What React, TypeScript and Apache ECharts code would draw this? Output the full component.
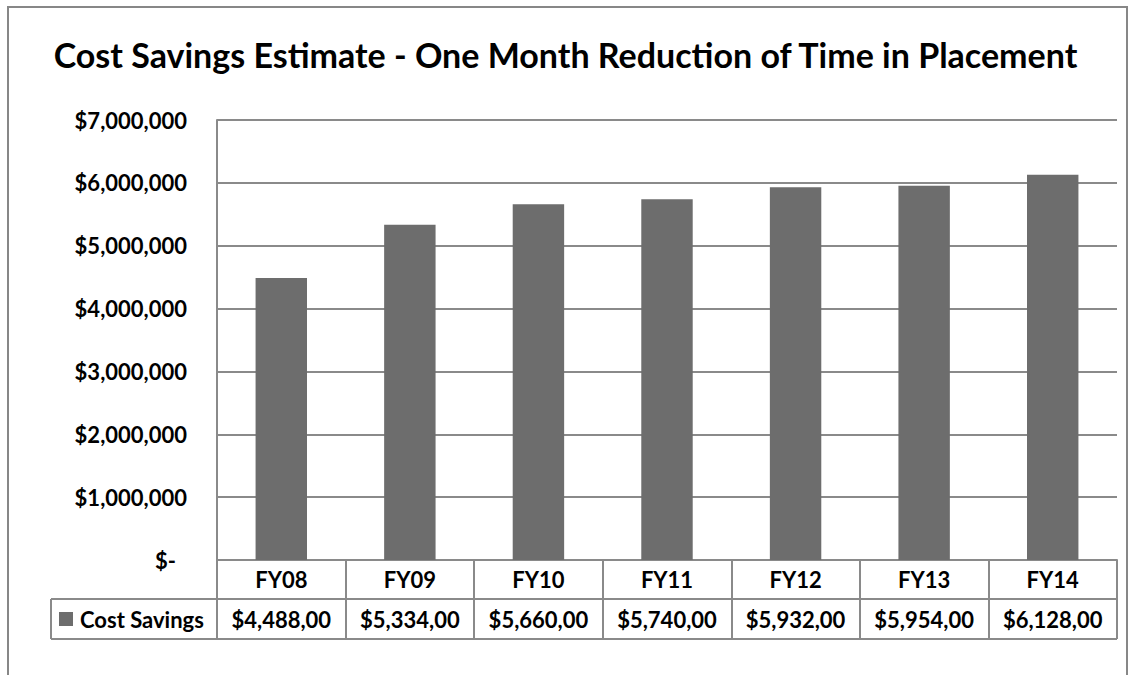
import React, { useEffect, useRef } from "react";
import * as echarts from "echarts";

const TITLE = "Cost Savings Estimate - One Month Reduction of Time in Placement";
const SERIES_NAME = "Cost Savings";
const categories = ["FY08", "FY09", "FY10", "FY11", "FY12", "FY13", "FY14"];
const values = [4488000, 5334000, 5660000, 5740000, 5932000, 5954000, 6128000];
const yMin = 0;
const yMax = 7000000;
const yStep = 1000000;

const FONT = "Lato, 'DejaVu Sans', sans-serif";
const GRAY_LINE = "#8a8a8a";
const BAR = "#6d6d6d";
const FS = 22;

const fmtAxis = (v: number) =>
  v === 0 ? "{z|$-}" : "$" + v.toLocaleString("en-US");
const fmtTable = (v: number) =>
  "$" + (v / 1000).toLocaleString("en-US") + ",00";

export default function App() {
  const ref = useRef<HTMLDivElement>(null);
  useEffect(() => {
    if (!ref.current) return;
    const chart = echarts.init(ref.current, null, { renderer: "svg" });
    const gridLeft = 217;
    const gridRight = 14;
    const gridTop = 120;
    const gridBottom = 115;
    const W = 1131;
    const H = 675;
    const zeroY = H - gridBottom;
    const row1 = zeroY + 39;
    const row2 = zeroY + 79;
    const tableLeft = 51;
    const plotRight = W - gridRight;
    const labelMap: Record<string, number> = {};
    categories.forEach((c, i) => (labelMap[c] = values[i]));

    const txt = {
      fontFamily: FONT,
      fontWeight: "bold",
      fontSize: FS,
      color: "#000",
    };

    chart.setOption({
      animation: false,
      backgroundColor: "#ffffff",
      title: {
        text: TITLE,
        left: "center",
        top: 32,
        textStyle: {
          fontFamily: FONT,
          fontWeight: "bold",
          fontSize: 34,
          color: "#000",
        },
      },
      grid: {
        left: gridLeft,
        right: gridRight,
        top: gridTop,
        bottom: gridBottom,
        containLabel: false,
      },
      xAxis: {
        type: "category",
        data: categories,
        boundaryGap: true,
        axisLine: { show: true, lineStyle: { color: GRAY_LINE, width: 2 } },
        axisTick: {
          show: true,
          alignWithLabel: false,
          length: 79,
          lineStyle: { color: GRAY_LINE, width: 2 },
        },
        axisLabel: {
          margin: 0,
          interval: 0,
          formatter: (c: string) => `{a|${c}}\n{b|${fmtTable(labelMap[c])}}`,
          rich: {
            a: { ...txt, lineHeight: 39, height: 39 },
            b: { ...txt, lineHeight: 40, height: 40 },
          },
        },
      },
      yAxis: {
        type: "value",
        min: yMin,
        max: yMax,
        interval: yStep,
        axisLine: { show: true, lineStyle: { color: GRAY_LINE, width: 2 } },
        axisTick: { show: false },
        splitLine: { show: true, lineStyle: { color: GRAY_LINE, width: 2 } },
        axisLabel: {
          margin: 30,
          formatter: fmtAxis,
          ...txt,
          rich: {
            z: { ...txt, padding: [0, 11, 0, 0] },
          },
        },
      },
      series: [
        {
          name: SERIES_NAME,
          type: "bar",
          data: values,
          barWidth: "40%",
          itemStyle: { color: BAR },
        },
      ],
      graphic: [
        {
          type: "rect",
          shape: { x: 8, y: 7, width: 1119, height: 700 },
          style: { fill: "none", stroke: "#878787", lineWidth: 2 },
          silent: true,
        },
        {
          type: "line",
          shape: { x1: tableLeft, y1: row1, x2: plotRight, y2: row1 },
          style: { stroke: GRAY_LINE, lineWidth: 2 },
        },
        {
          type: "line",
          shape: { x1: tableLeft, y1: row2, x2: plotRight, y2: row2 },
          style: { stroke: GRAY_LINE, lineWidth: 2 },
        },
        {
          type: "line",
          shape: { x1: tableLeft, y1: row1, x2: tableLeft, y2: row2 },
          style: { stroke: GRAY_LINE, lineWidth: 2 },
        },
        {
          type: "rect",
          shape: { x: 59, y: row1 + 13, width: 14, height: 14 },
          style: { fill: BAR },
        },
        {
          type: "text",
          x: 80,
          y: (row1 + row2) / 2,
          style: {
            text: SERIES_NAME,
            fontFamily: FONT,
            fontWeight: "bold",
            fontSize: FS,
            fill: "#000",
            verticalAlign: "middle",
            align: "left",
          },
        },
      ],
    });
    return () => chart.dispose();
  }, []);
  return (
    <div
      ref={ref}
      style={{
        position: "fixed",
        left: 0,
        top: 0,
        width: 1131,
        height: 675,
        background: "#fff",
      }}
    />
  );
}
